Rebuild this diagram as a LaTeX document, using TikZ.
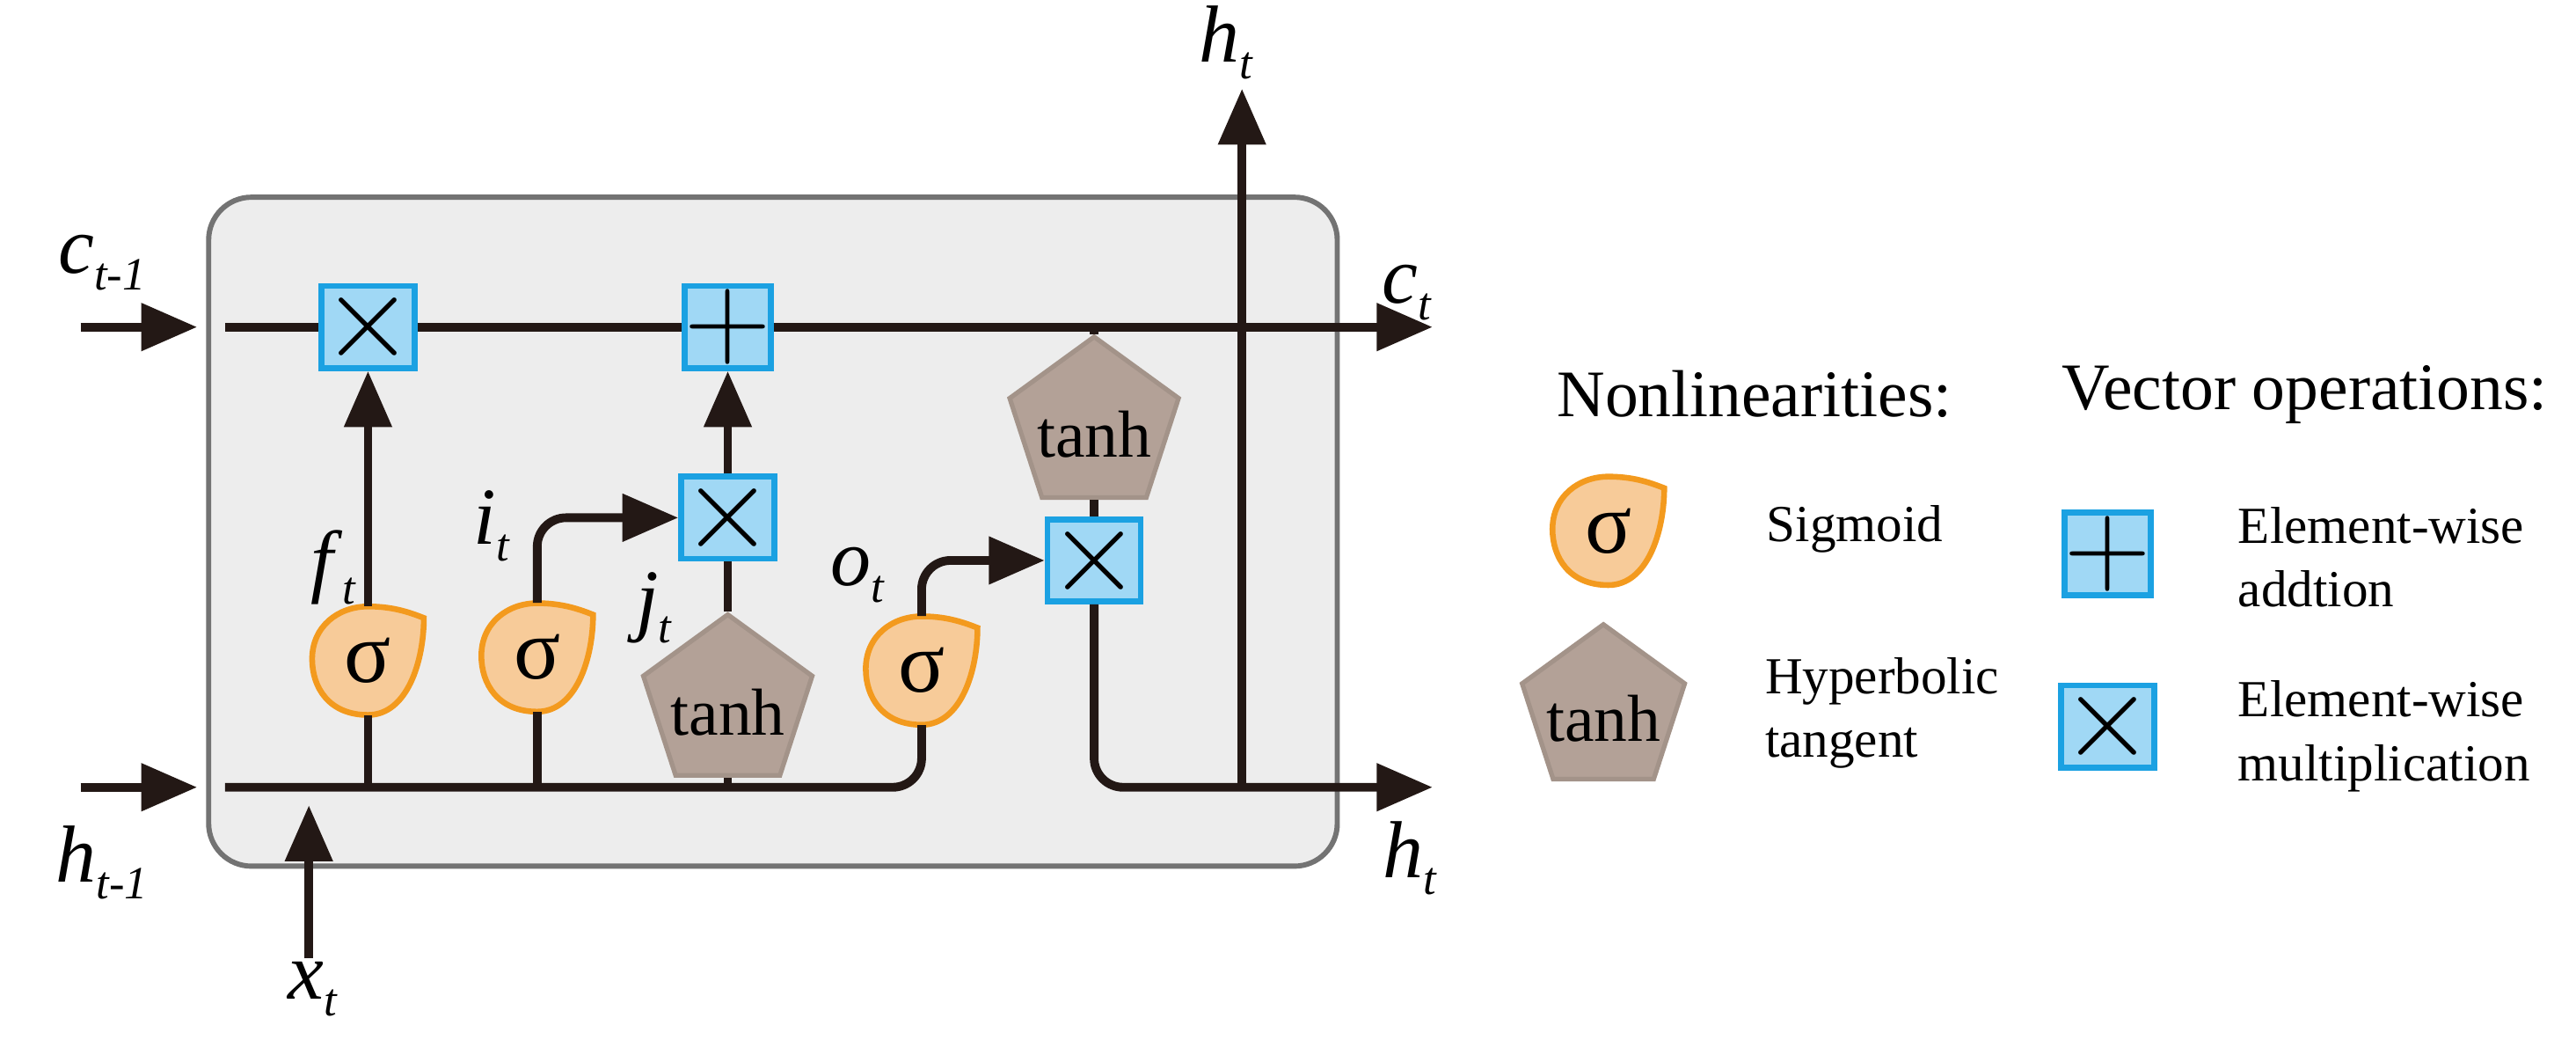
\documentclass[tikz,border=0pt]{standalone}
\usepackage{fontspec}
\setmainfont{Liberation Serif}
\usetikzlibrary{shapes.geometric,arrows.meta}
\definecolor{ln}{HTML}{231815}
\definecolor{sigf}{HTML}{F7CB99}
\definecolor{sigd}{HTML}{F39A1E}
\definecolor{boxf}{HTML}{A0D8F5}
\definecolor{boxd}{HTML}{1BA1E2}
\definecolor{tanf}{HTML}{B3A197}
\definecolor{tand}{HTML}{A39389}
\newcommand{\sbs}[2]{\textit{#1}\raisebox{-0.45ex}{\fontsize{8}{8}\selectfont\itshape #2}}
\begin{document}
\begin{tikzpicture}[x=0.01cm,y=-0.01cm,
  wire/.style={draw=ln,line width=1.5pt,rounded corners=5pt},
  arr/.style={wire,-{Triangle[length=0.34cm,width=0.28cm]}},
  op/.style={draw=boxd,fill=boxf,line width=1pt,minimum size=0.5cm,inner sep=0pt,font=\fontsize{20}{20}\selectfont},
  th/.style={regular polygon,regular polygon sides=5,draw=tand,fill=tanf,line width=0.8pt,minimum size=1.08cm,inner sep=0pt,
     label={[font=\fontsize{11.5}{11.5}\selectfont,yshift=-1.5pt]center:tanh}},
  sg/.style={inner sep=0pt,minimum width=0.68cm,minimum height=0.65cm,font=\fontsize{15}{15}\selectfont},
  lab/.style={font=\fontsize{14}{14}\selectfont},
  head/.style={font=\fontsize{11.5}{11.5}\selectfont},
  leg/.style={font=\fontsize{9}{11}\selectfont,align=left}]
\newcommand{\blob}[3]{%
  \path[draw=sigd,fill=sigf,line width=1pt,shift={(#2,#3)}]
    (0,-33) .. controls (14,-33) and (24,-30) .. (34,-26)
    .. controls (34,0) and (24,33) .. (0,33)
    .. controls (-24,33) and (-34,16) .. (-34,-1)
    .. controls (-34,-21) and (-18,-33) .. (0,-33) -- cycle;
  \node[sg] (#1) at (#2,#3) {σ};}
\useasboundingbox (0,0) rectangle (1568,646);
\fill[white] (0,0) rectangle (1568,646);
% cell box
\draw[fill=black!7,draw=black!55,line width=0.9pt,rounded corners=0.26cm] (127,120) rectangle (814,527);
% nodes
\node[op] (m1) at (224,199) {$\times$};
\node[op] (pl) at (443,199) {$+$};
\node[op] (m2) at (443,315) {$\times$};
\node[op] (m3) at (666,341) {$\times$};
\node[th] (t1) at (443,428) {};
\node[th] (t2) at (666,259) {};
\blob{s1}{224}{402}
\blob{s2}{327}{400}
\blob{s3}{561}{408}
% coordinates
\coordinate (cin0) at (49,199); \coordinate (cin1) at (120,199);
\coordinate (hin0) at (49,479); \coordinate (hin1) at (120,479);
\coordinate (cl) at (137,199); \coordinate (cout) at (872,199);
\coordinate (hl) at (137,479); \coordinate (hout) at (872,479);
\coordinate (x0) at (188,583); \coordinate (x1) at (188,490);
\coordinate (htop) at (756,54);
% wires
\draw[arr] (cin0) -- (cin1);
\draw[arr] (hin0) -- (hin1);
\draw[arr] (x0) -- (x1);
\draw[wire] (cl) -- (m1) -- (pl);
\draw[arr] (pl) -- (cout);
\draw[wire] (hl) -- (561,479) -- (s3.south);
\draw[wire] (224,479) -- (s1.south);
\draw[wire] (327,479) -- (s2.south);
\draw[wire] (443,479) -- (t1.south);
\draw[arr] (s1.north) -- (m1.south);
\draw[arr] (s2.north) |- (m2.west);
\draw[wire] (t1.north) -- (m2.south);
\draw[arr] (m2.north) -- (pl.south);
\draw[arr] (s3.north) |- (m3.west);
\draw[wire] (666,199) -- (t2.north);
\draw[wire] (t2.south) -- (m3.north);
\draw[arr] (m3.south) |- (hout);
\draw[arr] (756,479) -- (htop);
% labels
\node[lab] (lc0) at (62,160) {\sbs{c}{t-1}};
\node[lab] (lh0) at (62,525) {\sbs{h}{t-1}};
\node[lab] (lx) at (190,602) {\sbs{x}{t}};
\node[lab] (lht) at (746,26) {\sbs{h}{t}};
\node[lab] (lct) at (856,178) {\sbs{c}{t}};
\node[lab] (lhb) at (858,522) {\sbs{h}{t}};
\node[lab] (lf) at (203,345) {\sbs{f}{t}};
\node[lab] (li) at (299,320) {\sbs{i}{t}};
\node[lab] (lj) at (398,370) {\sbs{j}{t}};
\node[lab] (lo) at (522,350) {\sbs{o}{t}};
% legend
\node[head] (hn) at (1068,240) {Nonlinearities:};
\node[head] (hv) at (1403,240) {Vector operations:};
\blob{ls}{979}{323}
\node[leg,anchor=west] (lsg) at (1063,322) {Sigmoid};
\node[th,minimum size=1.04cm] (lt) at (976,432) {};
\node[leg,anchor=west] (ltt) at (1062,434) {Hyperbolic\\tangent};
\node[op] (lp) at (1283,337) {$+$};
\node[leg,anchor=west] (lpt) at (1350,339) {Element-wise\\addtion};
\node[op] (lm) at (1283,442) {$\times$};
\node[leg,anchor=west] (lmt) at (1350,448) {Element-wise\\multiplication};
\end{tikzpicture}
\end{document}
